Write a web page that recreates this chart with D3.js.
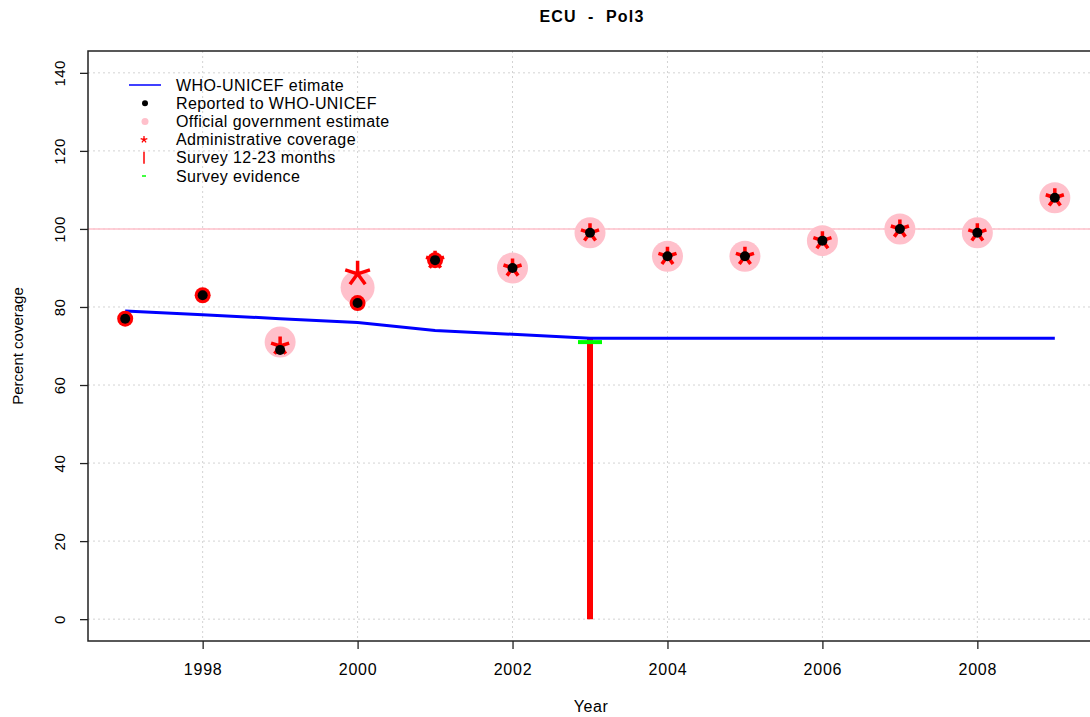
<!DOCTYPE html>
<html>
<head>
<meta charset="utf-8">
<script src="https://cdn.jsdelivr.net/npm/d3@7"></script>
<style>
  body { margin: 0; background: #fff; }
  text { font-family: "Liberation Sans", Arial, sans-serif; fill: #000; }
</style>
</head>
<body>
<svg id="chart" width="1090" height="717"></svg>
<script>
// data
const years = [1997, 1998, 1999, 2000, 2001, 2002, 2003, 2004, 2005, 2006, 2007, 2008, 2009];
const whoUnicef = [79, 78, 77, 76, 74, 73, 72, 72, 72, 72, 72, 72, 72];
const reported = [77, 83, 69, 81, 92, 90, 99, 93, 93, 97, 100, 99, 108];
// official government estimate (null = not shown)
const official = [null, null, 71, 85, null, 90, 99, 93, 93, 97, 100, 99, 108];
// administrative coverage asterisks
const admin = [null, null, 70, 88.5, 92, 90, 99, 93, 93, 97, 100, 99, 108];
// red ring behind the reported dot
const ring = [77, 83, null, 81, 92, null, null, null, null, null, null, null, null];
const surveyYears = [2003];
const survey1223 = [72];
const surveyEvidence = [71];
const yTicks = [0, 20, 40, 60, 80, 100, 120, 140];
const xTicks = [1998, 2000, 2002, 2004, 2006, 2008];
const legendLabels = ["WHO-UNICEF etimate", "Reported to WHO-UNICEF", "Official government estimate",
  "Administrative coverage", "Survey 12-23 months", "Survey evidence"];

const svg = d3.select("#chart");
const mLeft = 88, mRight = 1092, mTop = 51, mBottom = 641;

// R style 4% padding on both axes
const x = d3.scaleLinear().domain([1996.52, 2009.48]).range([mLeft, mRight]);
const y = d3.scaleLinear().domain([-5.6, 145.6]).range([mBottom, mTop]);

// grid
svg.append("g").selectAll("line").data(xTicks).join("line")
  .attr("x1", d => x(d)).attr("x2", d => x(d))
  .attr("y1", mTop).attr("y2", mBottom)
  .attr("stroke", "#d3d3d3").attr("stroke-dasharray", "2,3");
svg.append("g").selectAll("line").data(yTicks).join("line")
  .attr("x1", mLeft).attr("x2", mRight)
  .attr("y1", d => y(d)).attr("y2", d => y(d))
  .attr("stroke", "#d3d3d3").attr("stroke-dasharray", "2,3");

// 100% reference line
svg.append("line")
  .attr("x1", mLeft).attr("x2", mRight)
  .attr("y1", y(100)).attr("y2", y(100))
  .attr("stroke", "#ffc0cb").attr("stroke-width", 1.5);

// axes
const yAxis = svg.append("g")
  .attr("transform", `translate(${mLeft},0)`)
  .call(d3.axisLeft(y).tickValues(yTicks).tickSize(8));
yAxis.select(".domain").remove();
yAxis.selectAll("text")
  .attr("x", 0).attr("dy", "0.35em")
  .attr("transform", "translate(-28,0) rotate(-90)")
  .attr("text-anchor", "middle")
  .attr("font-size", 15).attr("letter-spacing", 0.5)
  .attr("font-family", "Liberation Sans, Arial, sans-serif");

const xAxis = svg.append("g")
  .attr("transform", `translate(0,${mBottom})`)
  .call(d3.axisBottom(x).tickValues(xTicks).tickFormat(d3.format("d")).tickSize(8).tickPadding(15));
xAxis.select(".domain").remove();
xAxis.selectAll("text")
  .attr("font-size", 16).attr("letter-spacing", 0.8)
  .attr("font-family", "Liberation Sans, Arial, sans-serif");
svg.selectAll(".tick line").attr("stroke", "#222").attr("stroke-width", 1.3);

// box
svg.append("rect")
  .attr("x", mLeft).attr("y", mTop)
  .attr("width", mRight - mLeft).attr("height", mBottom - mTop)
  .attr("fill", "none").attr("stroke", "#222").attr("stroke-width", 1.5);

// survey 12-23 months
svg.append("g").selectAll("line").data(surveyYears).join("line")
  .attr("x1", d => x(d)).attr("x2", d => x(d))
  .attr("y1", y(0)).attr("y2", (d, i) => y(survey1223[i]))
  .attr("stroke", "#ff0000").attr("stroke-width", 6);

// survey evidence
svg.append("g").selectAll("line").data(surveyYears).join("line")
  .attr("x1", d => x(d) - 12).attr("x2", d => x(d) + 12)
  .attr("y1", (d, i) => y(surveyEvidence[i])).attr("y2", (d, i) => y(surveyEvidence[i]))
  .attr("stroke", "#00ff00").attr("stroke-width", 4);

// WHO-UNICEF estimate
svg.append("path")
  .datum(years.map((d, i) => [d, whoUnicef[i]]))
  .attr("d", d3.line().x(d => x(d[0])).y(d => y(d[1])))
  .attr("fill", "none").attr("stroke", "#0000ff").attr("stroke-width", 3);

// official government estimate
const offPts = years.map((d, i) => [d, official[i]]).filter(d => d[1] != null);
svg.append("g").selectAll("circle").data(offPts).join("circle")
  .attr("cx", d => x(d[0])).attr("cy", d => y(d[1]))
  .attr("r", d => d[0] === 2000 ? 17 : 15.5).attr("fill", "#ffc0cb");

// red rings
const ringPts = years.map((d, i) => [d, ring[i]]).filter(d => d[1] != null);
svg.append("g").selectAll("circle").data(ringPts).join("circle")
  .attr("cx", d => x(d[0])).attr("cy", d => y(d[1]))
  .attr("r", 8).attr("fill", "#ff0000");

// administrative coverage asterisks (5 arms)
function asterisk(r) {
  let p = "";
  for (let k = 0; k < 5; k++) {
    const a = -Math.PI / 2 + k * 2 * Math.PI / 5;
    p += `M0,0L${(r * Math.cos(a)).toFixed(2)},${(r * Math.sin(a)).toFixed(2)}`;
  }
  return p;
}
const admPts = years.map((d, i) => [d, admin[i]]).filter(d => d[1] != null);
svg.append("g").selectAll("path").data(admPts).join("path")
  .attr("transform", d => `translate(${x(d[0])},${y(d[1])})`)
  .attr("d", d => asterisk(d[0] === 2000 ? 13 : 9.5))
  .attr("stroke", "#ff0000").attr("stroke-width", 3.5)
  .attr("fill", "none");

// reported
svg.append("g").selectAll("circle").data(years.map((d, i) => [d, reported[i]])).join("circle")
  .attr("cx", d => x(d[0])).attr("cy", d => y(d[1]))
  .attr("r", 5).attr("fill", "#000");

// legend
const lg = svg.append("g");
const rowY = i => 85 + i * 18.2;
lg.selectAll("text").data(legendLabels).join("text")
  .attr("x", 176).attr("y", (d, i) => rowY(i)).attr("dy", "0.35em")
  .attr("font-size", 16).attr("letter-spacing", 0.4).text(d => d);
lg.append("line").attr("x1", 129).attr("x2", 161).attr("y1", rowY(0)).attr("y2", rowY(0))
  .attr("stroke", "#0000ff").attr("stroke-width", 1.5);
lg.append("circle").attr("cx", 145).attr("cy", rowY(1)).attr("r", 3).attr("fill", "#000");
lg.append("circle").attr("cx", 145).attr("cy", rowY(2)).attr("r", 3.5).attr("fill", "#ffc0cb");
lg.append("path").attr("transform", `translate(144,${rowY(3)})`).attr("d", asterisk(3.5))
  .attr("stroke", "#ff0000").attr("stroke-width", 1.3).attr("fill", "none");
lg.append("line").attr("x1", 144).attr("x2", 144).attr("y1", rowY(4) - 6).attr("y2", rowY(4) + 6)
  .attr("stroke", "#ff0000").attr("stroke-width", 1.5);
lg.append("line").attr("x1", 142).attr("x2", 146).attr("y1", rowY(5)).attr("y2", rowY(5))
  .attr("stroke", "#00ff00").attr("stroke-width", 1.5);

// titles
svg.append("text").attr("x", 592).attr("y", 16).attr("dy", "0.35em")
  .attr("text-anchor", "middle").attr("font-weight", "bold").attr("font-size", 16)
  .attr("letter-spacing", 1.2)
  .style("white-space", "pre")
  .text("ECU  -  Pol3");
svg.append("text").attr("x", 591).attr("y", 706).attr("dy", "0.35em")
  .attr("text-anchor", "middle").attr("font-size", 16).attr("letter-spacing", 0.6).text("Year");
svg.append("text").attr("transform", `translate(18,${(mTop + mBottom) / 2}) rotate(-90)`)
  .attr("dy", "0.35em").attr("text-anchor", "middle").attr("font-size", 15)
  .text("Percent coverage");
</script>
</body>
</html>
